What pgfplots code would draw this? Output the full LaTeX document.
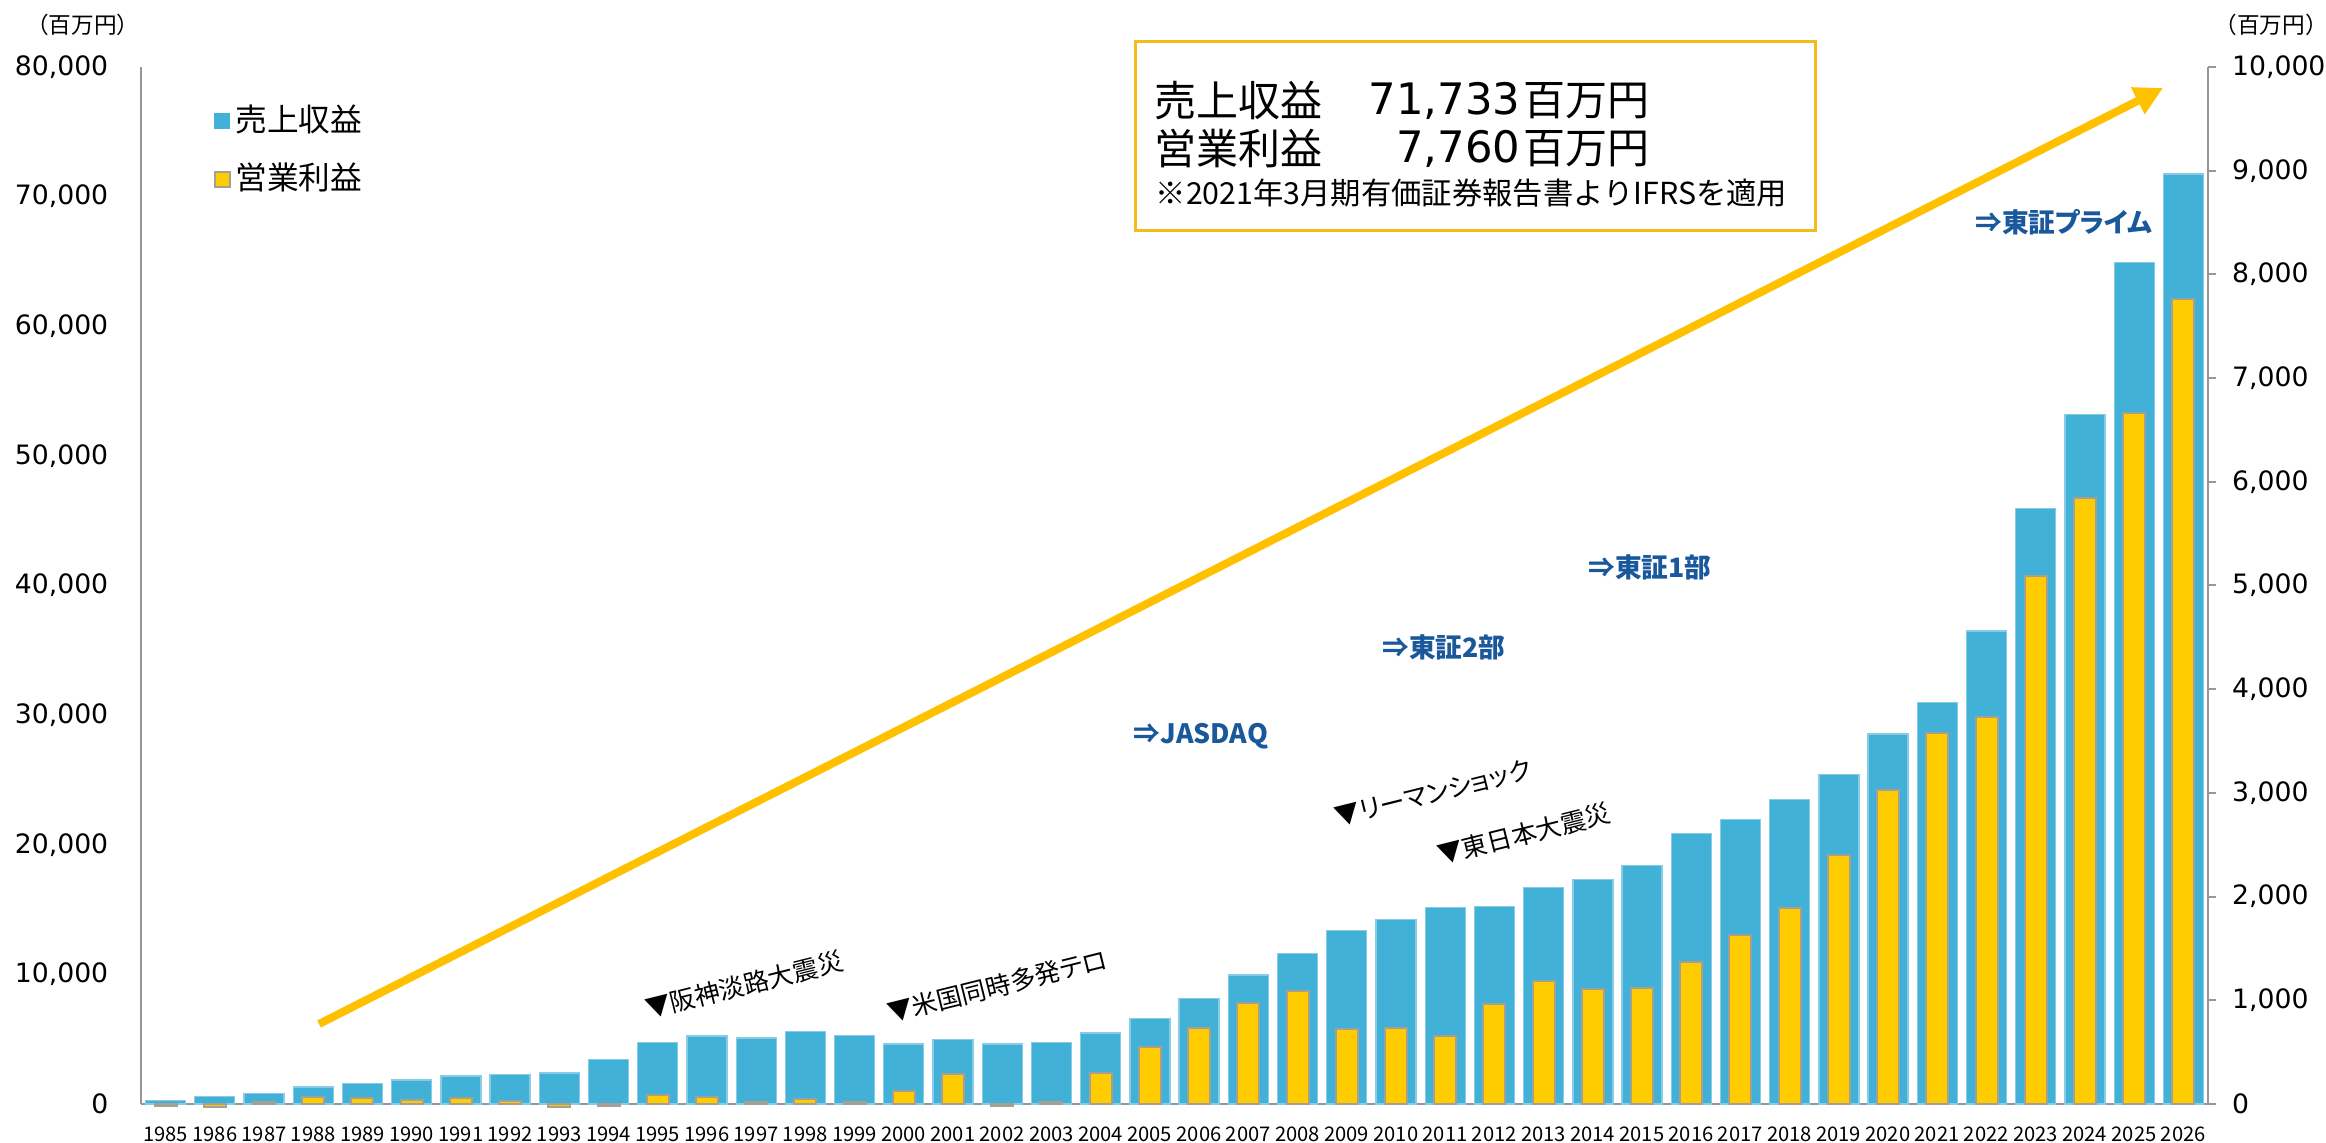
\documentclass[border=0pt]{standalone}
\usepackage{fontspec}
\setmainfont{Noto Sans CJK JP}
\newfontfamily\num{DejaVu Sans}
\newfontfamily\jpp{Noto Sans CJK JP}[RawFeature=+palt]
\usepackage{pgfplots}
\usepackage{pgfplotstable}
\pgfplotsset{compat=1.18}
\usetikzlibrary{arrows.meta}

\definecolor{barblue}{RGB}{65,177,216}
\definecolor{bluedge}{RGB}{135,203,230}
\definecolor{baryellow}{RGB}{255,204,0}
\definecolor{yellowedge}{RGB}{165,160,150}
\definecolor{arrowyellow}{RGB}{255,192,0}
\definecolor{boxyellow}{RGB}{245,186,28}
\definecolor{axisgray}{RGB}{150,150,150}
\definecolor{noteblue}{RGB}{25,88,155}

% 売上収益 (left axis) and 営業利益 (right axis), 百万円
\pgfplotstableread{
year rev op
1985 250 -20
1986 590 -30
1987 800 20
1988 1310 65
1989 1570 60
1990 1850 40
1991 2160 55
1992 2260 25
1993 2390 -25
1994 3420 -15
1995 4750 87
1996 5250 68
1997 5090 20
1998 5600 48
1999 5270 20
2000 4630 122
2001 4960 286
2002 4630 -22
2003 4730 20
2004 5470 299
2005 6580 546
2006 8120 732
2007 9950 970
2008 11600 1089
2009 13400 726
2010 14250 732
2011 15150 655
2012 15230 960
2013 16700 1182
2014 17300 1105
2015 18400 1115
2016 20870 1365
2017 21950 1628
2018 23500 1888
2019 25400 2402
2020 28550 3030
2021 30950 3580
2022 36500 3729
2023 45950 5092
2024 53200 5840
2025 64900 6660
2026 71733 7760
}\datatable

\pgfplotsset{
  twin/.style={
    scale only axis, width=620.1pt, height=311.1pt,
    xmin=1984.5, xmax=2026.5,
    clip=false,
    axis line style={draw=axisgray, line width=0.6pt},
    scaled x ticks=false, scaled y ticks=false,
    /pgf/number format/assume math mode=true,
    y tick label style={font=\num\fontsize{8}{9}\selectfont, /pgf/number format/1000 sep={,}},
  },
}

\begin{document}
\begin{tikzpicture}
\path[use as bounding box] (-42.3pt,-11.4pt) rectangle (655.5pt,331.2pt);

\begin{axis}[
  twin,
  ymin=0, ymax=80000,
  axis x line*=bottom, axis y line*=left,
  xtick={1985,...,2026},
  ytick={0,10000,...,80000},
  major tick length=0pt,
  x tick label style={font=\fontsize{6.05}{7}\selectfont, /pgf/number format/1000 sep={}, yshift=-3.2pt},
  y tick label style={xshift=-6.3pt},
  ylabel={（百万円）},
  ylabel style={rotate=-90, at={(axis description cs:-0.0281,1.0405)}, anchor=center, font=\fontsize{6.8}{7}\selectfont},
]
\addplot[ybar, bar width=12pt, bar shift=0pt, fill=barblue, draw=bluedge, line width=0.4pt]
  table[x=year, y=rev] {\datatable};
\end{axis}

\begin{axis}[
  twin,
  ymin=0, ymax=10000,
  axis x line=none, axis y line*=right,
  ytick={0,1000,...,10000},
  tick align=outside, major tick length=2.4pt,
  tick style={draw=axisgray, line width=0.6pt},
  y tick label style={xshift=1.3pt},
  ylabel={（百万円）},
  ylabel style={rotate=-90, at={(axis description cs:1.0305,1.0405)}, anchor=center, font=\fontsize{6.8}{7}\selectfont},
  legend style={at={(0.0348,0.920)}, anchor=west, draw=none, fill=none,
    font=\fontsize{9.5}{11}\selectfont, row sep=5pt, inner sep=0pt,
    nodes={inner sep=1.5pt}},
  legend cell align=left,
]
\addlegendimage{legend image code/.code={\filldraw[fill=barblue, draw=barblue] (0pt,-2.25pt) rectangle (4.5pt,2.25pt);}}
\addlegendentry{売上収益}
\addlegendimage{legend image code/.code={\filldraw[fill=baryellow, draw=yellowedge, line width=0.6pt] (0pt,-2.25pt) rectangle (4.5pt,2.25pt);}}
\addlegendentry{営業利益}
\addplot[ybar, forget plot, bar width=6.6pt, bar shift=0pt, fill=baryellow, draw=yellowedge, line width=0.6pt]
  table[x=year, y=op] {\datatable};
\end{axis}

% notes, placed in reference pixel units
\begin{scope}[x=0.3pt, y=-0.3pt, shift={(-42.3pt,331.2pt)}]
  \draw[arrowyellow, line width=2.4pt, -{Triangle[length=8.5pt, width=8.5pt]}] (319,1024) -- (2163,88);

  \draw[boxyellow, line width=0.9pt, fill=white] (1135,42) rectangle (1815,231);
  \node[anchor=west, inner sep=0pt, font=\fontsize{12.6}{14}\selectfont] at (1154,101) {売上収益};
  \node[anchor=east, inner sep=0pt, font=\num\fontsize{13}{15}\selectfont] at (1521,101) {71,733};
  \node[anchor=west, inner sep=0pt, font=\fontsize{12.6}{14}\selectfont] at (1523,101) {百万円};
  \node[anchor=west, inner sep=0pt, font=\fontsize{12.6}{14}\selectfont] at (1154,149) {営業利益};
  \node[anchor=east, inner sep=0pt, font=\num\fontsize{13}{15}\selectfont] at (1521,149) {7,760};
  \node[anchor=west, inner sep=0pt, font=\fontsize{12.6}{14}\selectfont] at (1523,149) {百万円};
  \node[anchor=west, inner sep=0pt, font=\fontsize{9.1}{10}\selectfont] at (1155,193) {※2021年3月期有価証券報告書よりIFRSを適用};

  \begin{scope}[every node/.style={text=noteblue, font=\jpp\bfseries\fontsize{8}{9}\selectfont}]
    \node at (2064,222) {⇒東証プライム};
    \node at (1650,567) {⇒東証1部};
    \node at (1444,647) {⇒東証2部};
    \node at (1201,736) {⇒JASDAQ};
  \end{scope}

  \begin{scope}[every node/.style={rotate=14, inner sep=0.5pt, font=\jpp\fontsize{7.6}{8.5}\selectfont}]
    \node at (744,985) {▼阪神淡路大震災};
    \node at (997,986) {▼米国同時多発テロ};
    \node at (1433,793) {▼リーマンショック};
    \node at (1524,834) {▼東日本大震災};
  \end{scope}
\end{scope}
\end{tikzpicture}
\end{document}
